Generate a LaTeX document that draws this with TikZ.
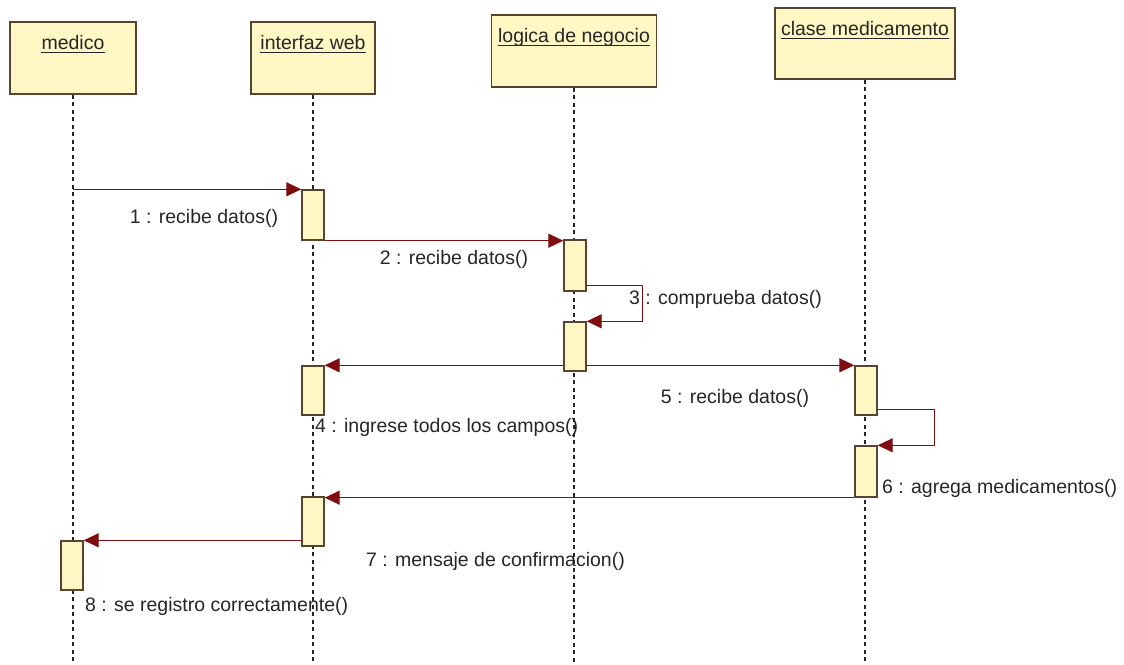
\documentclass[tikz,border=0pt]{standalone}
\usepackage{fontspec}
\setmainfont{Liberation Sans}
\usetikzlibrary{arrows.meta}
\definecolor{boxfill}{RGB}{255,247,196}
\definecolor{boxdraw}{RGB}{88,68,48}
\definecolor{msgred}{RGB}{128,14,14}
\begin{document}
\begin{tikzpicture}[x=1pt,y=-1pt,
  obj/.style={draw=boxdraw, fill=boxfill, line width=1.6pt, inner sep=0pt},
  act/.style={draw=boxdraw, fill=boxfill, line width=1.4pt, inner sep=0pt, minimum width=22pt},
  title/.style={font=\fontsize{19.5}{23}\selectfont, text=black!85, inner sep=0pt, anchor=base},
  uline/.style={draw=black!85, line width=1pt},
  lbl/.style={font=\fontsize{19.5}{23}\selectfont, text=black!85, inner sep=0pt},
  lifeline/.style={draw=black!85, line width=1.6pt, dash pattern=on 4pt off 3.5pt},
  msg/.style={draw=msgred, line width=1.3pt, -{Triangle[length=15pt,width=14pt]}}
]
\useasboundingbox[fill=white] (0,0) rectangle (1124,664);
\coordinate (bot) at (0,664);
% object boxes
\node[obj, minimum width=126pt, minimum height=72pt] (medico) at (73,58) {};
\node[obj, minimum width=124pt, minimum height=72pt] (web) at (313,58) {};
\node[obj, minimum width=165pt, minimum height=72pt] (logica) at (574,51) {};
\node[obj, minimum width=180pt, minimum height=71pt] (clase) at (865,43.5) {};
\node[title] (tmedico) at ([yshift=-28pt]medico.north) {medico};
\node[title] (tweb) at ([yshift=-28pt]web.north) {interfaz web};
\node[title] (tlogica) at ([yshift=-28pt]logica.north) {logica de negocio};
\node[title] (tclase) at ([yshift=-28pt]clase.north) {clase medicamento};
\foreach \t in {tmedico,tweb,tlogica,tclase}
  \draw[uline] ([yshift=-3pt]\t.base west) -- ([yshift=-3pt]\t.base east);
% lifelines
\draw[lifeline] (medico.south) -- (medico.south |- bot);
\draw[lifeline] (web.south) -- (web.south |- bot);
\draw[lifeline] (logica.south) -- (logica.south |- bot);
\draw[lifeline] (clase.south) -- (clase.south |- bot);
% activations
\node[act, minimum height=50pt] (a1) at (313,215) {};
\node[act, minimum height=51pt] (a2) at (575,265.5) {};
\node[act, minimum height=49pt] (a3) at (575,346.5) {};
\node[act, minimum height=49pt] (a4) at (313,390.5) {};
\node[act, minimum height=49pt] (a5) at (866,390.5) {};
\node[act, minimum height=51pt] (a6) at (866,471.5) {};
\node[act, minimum height=49pt] (a7) at (313,521.5) {};
\node[act, minimum height=49pt] (a8) at (72,565.5) {};
% messages
\draw[msg] (medico.south |- a1.north) -- (a1.north west);
\draw[msg] (a1.south east) -- (a1.south east -| a2.west);
\draw[msg] ([yshift=6pt]a2.south east) -- ++(56,0) |- (a3.north east);
\draw[msg] (a3.west |- a4.north) -- (a4.north east);
\draw[msg] (a3.east |- a5.north) -- (a5.north west);
\draw[msg] ([yshift=6pt]a5.south east) -- ++(57,0) |- (a6.north east);
\draw[msg] (a6.south west) -- (a6.south west -| a7.east);
\draw[msg] (a7.west |- a8.north) -- (a8.north east);
% labels
\node[lbl, anchor=mid] (l1) at (204,221) {1 : recibe datos()};
\node[lbl, anchor=mid] (l2) at (454,262) {2 : recibe datos()};
\node[lbl, anchor=mid west] (l3) at (629,302) {3 : comprueba datos()};
\node[lbl, anchor=mid west] (l4) at (315,430) {4 : ingrese todos los campos()};
\node[lbl, anchor=mid] (l5) at (735,401) {5 : recibe datos()};
\node[lbl, anchor=mid west] (l6) at (882,491) {6 : agrega medicamentos()};
\node[lbl, anchor=mid west] (l7) at (366,564) {7 : mensaje de confirmacion()};
\node[lbl, anchor=mid west] (l8) at (85,609) {8 : se registro correctamente()};
\end{tikzpicture}
\end{document}
